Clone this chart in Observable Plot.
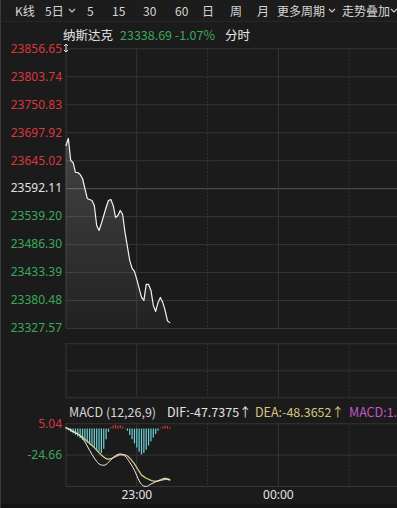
<!DOCTYPE html>
<html><head><meta charset="utf-8">
<script src="https://cdn.jsdelivr.net/npm/d3@7"></script>
<script src="https://cdn.jsdelivr.net/npm/@observablehq/plot@0.6"></script>
<style>
html,body{margin:0;padding:0;background:#1b1b1b;}
body{width:397px;height:508px;position:relative;overflow:hidden;font-family:"Noto Sans CJK SC","Noto Sans",sans-serif;color:#d8d8d8;}
.abs{position:absolute;white-space:nowrap;}
#topbar{position:absolute;left:0;top:0;width:397px;height:21px;border-bottom:1px solid #262626;background:#1c1c1c;}
#topbar span{position:absolute;top:0;font-size:12px;line-height:21px;color:#d6d6d6;}
#topbar svg{position:absolute;top:8px;}
.panel{position:absolute;left:0;}
#leftedge{position:absolute;left:0;top:0;width:1px;height:508px;background:#3a3a3a;}
#bottomstrip{position:absolute;left:0;top:504px;width:397px;height:4px;background:#141414;}
#dragIcon{position:absolute;left:63px;top:43px;}
</style></head><body>
<div id="topbar"></div>
<div id="legend1"></div>
<div id="mainPanel" class="panel" style="top:40px"></div>
<div id="volPanel" class="panel" style="top:335px"></div>
<div id="macdPanel" class="panel" style="top:415px"></div>
<div id="legend2"></div>
<div id="bottomstrip"></div>
<div id="leftedge"></div>
<svg id="dragIcon" width="6" height="10"><polyline points="1,3 3,1 5,3" fill="none" stroke="#e0e0e0" stroke-width="1"/><line x1="3" y1="1" x2="3" y2="9" stroke="#e0e0e0" stroke-width="1"/><polyline points="1,7 3,9 5,7" fill="none" stroke="#e0e0e0" stroke-width="1"/></svg>
<script>
// ---------- data ----------
const topMenu = ["K线", "5日", "5", "15", "30", "60", "日", "周", "月", "更多周期", "走势叠加"];
const indexName = "纳斯达克";
const lastPrice = "23338.69";
const changePct = "-1.07%";
const modeLabel = "分时";

const priceTicks = [23856.65, 23803.74, 23750.83, 23697.92, 23645.02, 23592.11, 23539.20, 23486.30, 23433.39, 23380.48, 23327.57];
const prevClose = 23592.11;

// minutes after 22:30
const minutes = [0,1,2,3,4,5,6,7,8,9,10,11,12,13,14,15,16,17,18,19,20,21,22,23,24,25,26,27,28,29,30,31,32,33,34,35,36,37,38,39,40,41,42,43,44];
const prices = [23673.7,23687.0,23645.4,23641.6,23622.7,23622.7,23618.9,23611.3,23592.4,23573.6,23571.7,23569.8,23560.3,23522.5,23513.0,23526.3,23541.4,23556.5,23569.8,23571.7,23560.3,23537.6,23541.4,23550.9,23543.3,23509.3,23482.8,23456.3,23441.2,23435.5,23420.4,23403.3,23386.3,23380.7,23410.9,23410.9,23399.6,23371.2,23359.8,23376.9,23386.3,23376.9,23361.8,23342.0,23338.69];

const timeTickMinutes = [30, 90];
const timeTickLabels = ["23:00", "00:00"];
const solidGridMinutes = [0, 30, 90];
const dashedGridMinutes = [60, 120];

const macdTicks = [5.04, -24.66, -54.36];
const macdTickLabels = ["5.04", "-24.66", ""];
const macdHist = [-0.5,-1.5,-3,-4.5,-6,-7.5,-9,-10.5,-12,-13.5,-15,-16.5,-18,-20,-22,-23,-19,-10,-3,1.5,3,3.5,2.5,3.2,2,0.6,-2,-6,-10,-14,-18,-22,-24.5,-23,-20,-16,-12,-8.5,-5,-2,0.8,2,3,2.5,1.3];
const difValues = [1.5,0,-1.5,-2.5,-3.5,-5,-6.5,-9,-12,-16,-20,-24,-27.5,-30.5,-33,-34,-34.3,-33.5,-31.5,-29,-27,-25,-24,-23.5,-24,-25.5,-28,-31.5,-35,-39,-44,-49,-52.5,-54,-54.3,-53.5,-52,-51,-50,-49,-48,-47,-46.5,-47,-47.74];
const deaValues = [1.5,0.5,-0.5,-2,-3,-4.5,-6,-7.5,-9.5,-11.5,-13.5,-15.5,-17.5,-20,-22.5,-24.5,-26.5,-28,-28.5,-28,-27,-26,-25,-24.5,-24.3,-24.5,-25.5,-27.5,-30,-33,-36.5,-40,-43.5,-45,-46.5,-47.5,-48.5,-49.2,-49.3,-49,-48.5,-48,-47.5,-47.5,-48.37];
const macdLegend = {title: "MACD (12,26,9)", dif: "DIF:-47.7375", dea: "DEA:-48.3652", macd: "MACD:1.2546"};

// ---------- colors ----------
const UP = "#d9383f", DOWN = "#3aa95a", FLAT = "#e2e2e2";
const GRID = "#353535", GRID_MID = "#4a4a4a";
const CYAN = "#6fd3d6", DEA_C = "#d8c47e", MAG = "#c457cc";

// ---------- top bar ----------
const menuX = [15, 45, 87, 112, 143, 175, 202, 230, 257, 277, 342];
const chevronX = [68, 328, 390];
const tb = document.getElementById("topbar");
topMenu.forEach((t, i) => {
  const s = document.createElement("span");
  s.textContent = t; s.style.left = menuX[i] + "px"; tb.appendChild(s);
});
chevronX.forEach(x => {
  const ns = "http://www.w3.org/2000/svg";
  const svg = document.createElementNS(ns, "svg");
  svg.setAttribute("width", 8); svg.setAttribute("height", 6);
  svg.style.left = x + "px";
  const p = document.createElementNS(ns, "polyline");
  p.setAttribute("points", "1,1 4,4 7,1"); p.setAttribute("fill", "none");
  p.setAttribute("stroke", "#cfcfcf"); p.setAttribute("stroke-width", "1.1");
  svg.appendChild(p); tb.appendChild(svg);
});

// ---------- legend rows ----------
function addText(parent, text, x, yc, color, size) {
  const d = document.createElement("div");
  d.className = "abs"; d.textContent = text;
  d.style.left = x + "px"; d.style.top = (yc - 9) + "px";
  d.style.lineHeight = "18px"; d.style.fontSize = size + "px"; d.style.color = color;
  parent.appendChild(d);
  return d;
}
const L1 = document.getElementById("legend1");
addText(L1, indexName, 63, 35, "#e6e6e6", 12.5);
addText(L1, lastPrice + " " + changePct, 120, 35, DOWN, 12.5);
addText(L1, modeLabel, 225, 35, "#e6e6e6", 12.5);

const L2 = document.getElementById("legend2");
addText(L2, macdLegend.title, 69, 412, "#d6d6d6", 12.5);
addText(L2, macdLegend.dif + "↑", 167, 412, "#e2e2e2", 12.5);
addText(L2, macdLegend.dea + "↑", 255, 412, DEA_C, 12.5);
const m = addText(L2, macdLegend.macd, 349, 412, MAG, 12.5);
m.style.width = (397 - 349) + "px"; m.style.overflow = "hidden";

// ---------- shared x ----------
const PX_PER_MIN = 2.36;
const LEFT = 65.5;
const xMax = (397 - LEFT) / PX_PER_MIN;
const xOpt = {domain: [0, xMax], axis: null};

function gridMarks() {
  return [
    Plot.ruleX(solidGridMinutes, {stroke: GRID, strokeWidth: 1}),
    Plot.ruleX(dashedGridMinutes, {stroke: GRID, strokeWidth: 1, strokeDasharray: "2,1.5"})
  ];
}

// ---------- main price panel ----------
const series = minutes.map((t, i) => ({t, v: prices[i]}));
const yMin = priceTicks[priceTicks.length - 1], yMax = priceTicks[0];
const main = Plot.plot({
  width: 397, height: 295,
  marginTop: 8.3, marginBottom: 7, marginLeft: LEFT, marginRight: 0,
  x: xOpt,
  y: {domain: [yMin, yMax], axis: null},
  color: {type: "identity"},
  style: {background: "transparent", overflow: "visible", fontFamily: '"Noto Sans", "Noto Sans CJK SC", sans-serif'},
  marks: [
    Plot.ruleY(priceTicks.filter(d => d !== prevClose), {stroke: GRID}),
    Plot.ruleY([prevClose], {stroke: GRID_MID, strokeWidth: 1.4}),
    ...gridMarks(),
    Plot.areaY(series, {x: "t", y1: yMin, y2: "v", fill: "url(#priceGrad)"}),
    Plot.lineY(series, {x: "t", y: "v", stroke: "#f2f2f2", strokeWidth: 1.2}),
    Plot.text(priceTicks, {
      x: 0, y: d => d, text: d => d.toFixed(2), textAnchor: "end", dx: -4, fontSize: 12,
      fill: d => d > prevClose ? UP : d < prevClose ? DOWN : FLAT
    })
  ]
});
d3.select(main).insert("defs", ":first-child").html(
  '<linearGradient id="priceGrad" x1="0" y1="0" x2="0" y2="1">' +
  '<stop offset="0" stop-color="#ffffff" stop-opacity="0.18"/>' +
  '<stop offset="1" stop-color="#ffffff" stop-opacity="0.03"/></linearGradient>');
document.getElementById("mainPanel").appendChild(main);

// ---------- empty volume panel ----------
const vol = Plot.plot({
  width: 397, height: 70,
  marginTop: 8.3, marginBottom: 7.7, marginLeft: LEFT, marginRight: 0,
  x: xOpt, y: {domain: [0, 2], axis: null},
  style: {background: "transparent", overflow: "visible"},
  marks: [Plot.ruleY([0, 1, 2], {stroke: GRID}), ...gridMarks()]
});
document.getElementById("volPanel").appendChild(vol);

// ---------- MACD panel ----------
const macdData = minutes.map((t, i) => ({t, h: macdHist[i], dif: difValues[i], dea: deaValues[i]}));
const timeTicks = timeTickMinutes.map((t, i) => ({t, label: timeTickLabels[i]}));
const macd = Plot.plot({
  width: 397, height: 90,
  marginTop: 8.3, marginBottom: 19, marginLeft: LEFT, marginRight: 0,
  x: xOpt,
  y: {domain: [macdTicks[2], macdTicks[0]], axis: null},
  color: {type: "identity"},
  style: {background: "transparent", overflow: "visible", fontFamily: '"Noto Sans", "Noto Sans CJK SC", sans-serif'},
  marks: [
    Plot.ruleY(macdTicks, {stroke: GRID}),
    ...gridMarks(),
    Plot.ruleX(macdData, {x: "t", y1: 0, y2: "h", stroke: d => d.h >= 0 ? UP : CYAN, strokeWidth: 1.2}),
    Plot.lineY(macdData, {x: "t", y: "dea", stroke: DEA_C, strokeWidth: 1.3, curve: "monotone-x"}),
    Plot.lineY(macdData, {x: "t", y: "dif", stroke: "#eeeeee", strokeWidth: 1, curve: "monotone-x"}),
    Plot.text(macdTicks.slice(0, 2), {
      x: 0, y: d => d, text: (d, i) => macdTickLabels[i], textAnchor: "end", dx: -4, fontSize: 12,
      fill: d => d > 0 ? UP : DOWN
    }),
    Plot.text(timeTicks, {x: "t", text: "label", frameAnchor: "bottom", dy: 12.5, fontSize: 12, fill: "#e2e2e2"})
  ]
});
document.getElementById("macdPanel").appendChild(macd);
</script>
</body></html>
